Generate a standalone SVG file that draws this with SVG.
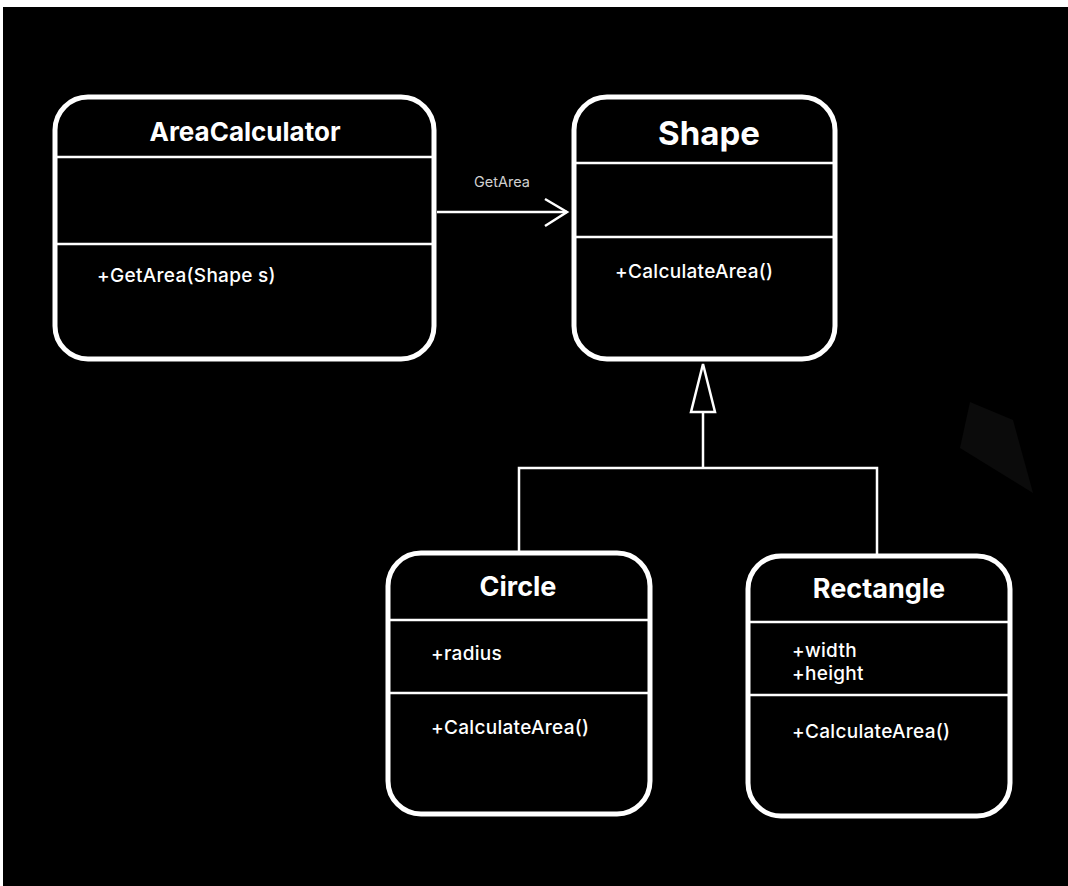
<svg xmlns="http://www.w3.org/2000/svg" width="1068" height="886" viewBox="0 0 1068 886">
<style>
.box{fill:#000;stroke:#fff;stroke-width:5}
.div{stroke:#fff;stroke-width:2.5}
.title{font-family:Inter,"Liberation Sans",sans-serif;font-weight:700;fill:#fff;text-anchor:middle}
.mem{font-family:Inter,"Liberation Sans",sans-serif;font-size:19px;font-weight:500;fill:#fff;letter-spacing:0.3px}
.conn{stroke:#fff;stroke-width:2.5;fill:none}
.lbl{font-family:Inter,"Liberation Sans",sans-serif;font-size:14.5px;fill:#d0d0d0;text-anchor:middle}
</style>
<rect x="0" y="0" width="1068" height="886" fill="#fff"/>
<rect x="3" y="7" width="1065" height="879" fill="#000"/>
<polygon points="970,402 960,448 1033,493 1013,420" fill="#0b0b0b"/>
<g id="connectors">
<line class="conn" x1="437" y1="212" x2="567" y2="212"/>
<polyline class="conn" points="545,199 567,212 545,226" stroke-width="3"/>
<text class="lbl" x="502" y="187">GetArea</text>
<polygon class="conn" points="703,364 691,412 715,412" stroke-width="2.5"/>
<polyline class="conn" points="703,412 703,468"/>
<polyline class="conn" points="519,553 519,468 877,468 877,556"/>
</g>
<g id="AreaCalculator">
<rect class="box" x="55" y="97" width="379" height="262" rx="33"/>
<line class="div" x1="57" y1="157" x2="432" y2="157"/>
<line class="div" x1="57" y1="244" x2="432" y2="244"/>
<text class="title" x="245" y="141" font-size="26">AreaCalculator</text>
<text class="mem" x="97" y="282">+GetArea(Shape s)</text>
</g>
<g id="Shape">
<rect class="box" x="574" y="97" width="261" height="262" rx="33"/>
<line class="div" x1="576" y1="163" x2="833" y2="163"/>
<line class="div" x1="576" y1="237" x2="833" y2="237"/>
<text class="title" x="709" y="145" font-size="33">Shape</text>
<text class="mem" x="615" y="278">+CalculateArea()</text>
</g>
<g id="Circle">
<rect class="box" x="388" y="553" width="262" height="261" rx="33"/>
<line class="div" x1="390" y1="620" x2="648" y2="620"/>
<line class="div" x1="390" y1="693" x2="648" y2="693"/>
<text class="title" x="518" y="596" font-size="27">Circle</text>
<text class="mem" x="431" y="660">+radius</text>
<text class="mem" x="431" y="734">+CalculateArea()</text>
</g>
<g id="Rectangle">
<rect class="box" x="748" y="556" width="262" height="260" rx="33"/>
<line class="div" x1="750" y1="622" x2="1008" y2="622"/>
<line class="div" x1="750" y1="695" x2="1008" y2="695"/>
<text class="title" x="879" y="598" font-size="27">Rectangle</text>
<text class="mem" x="792" y="657">+width</text>
<text class="mem" x="792" y="680">+height</text>
<text class="mem" x="792" y="738">+CalculateArea()</text>
</g>
</svg>
